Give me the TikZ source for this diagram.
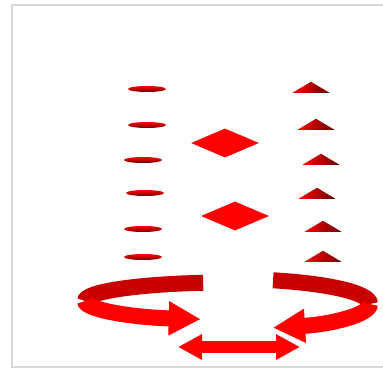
\documentclass[tikz,border=0pt]{standalone}
\usepackage{tikz}
\usetikzlibrary{positioning,shapes.geometric,arrows.meta}
\definecolor{rred}{HTML}{FF0000}
\definecolor{dred}{HTML}{C80000}
\definecolor{gframe}{HTML}{D9D9D9}

\begin{document}
\begin{tikzpicture}[x=1pt,y=-1pt,
  el/.style={ellipse,minimum width=38pt,minimum height=6pt,inner sep=0pt,top color=rred,bottom color=rred!45!black},
  tri/.style={isosceles triangle,isosceles triangle stretches,shape border rotate=90,minimum width=37pt,minimum height=11pt,inner sep=0pt,anchor=south,left color=rred,right color=rred!40!black},
  dm/.style={diamond,minimum width=68pt,minimum height=29pt,inner sep=0pt,fill=rred},
  ringback/.style={draw=dred,line width=16pt},
  ringfront/.style={draw=rred,line width=16pt,-{Triangle[length=32pt,width=32pt]}},
  dbl/.style={draw=rred,line width=12pt,{Triangle[length=24pt,width=24pt]}-{Triangle[length=24pt,width=24pt]}}]
  \useasboundingbox (0,0) rectangle (383,369);
  \draw[gframe,line width=2.5pt](395,5)--(12,5)--(12,367)--(395,367);
  \node[el](e1)at(147,89){};
  \node[el](e2)at(147,125){};
  \node[el](e3)at(143,160){};
  \node[el](e4)at(145,193){};
  \node[el](e5)at(143,229){};
  \node[el](e6)at(143,257){};
  \node[tri](t1)at(311,93){};
  \node[tri](t2)at(316,130){};
  \node[tri](t3)at(321,165){};
  \node[tri](t4)at(317,199){};
  \node[tri](t5)at(323,232){};
  \node[tri](t6)at(323,262){};
  \node[dm](d1)at(225,143){};
  \node[dm](d2)at(235,216){};
  \coordinate(lw)at(85,301);
  \coordinate(rw)at(370,304);
  \draw[ringback](lw)arc[start angle=180,end angle=260,x radius=143,y radius=18.5];
  \draw[ringfront](lw)arc[start angle=180,end angle=101,x radius=143,y radius=18.5];
  \draw[ringback](rw)arc[start angle=0,end angle=-71.5,x radius=142,y radius=25];
  \draw[ringfront](rw)arc[start angle=0,end angle=71.5,x radius=142,y radius=25];
  \coordinate(bl)at(178,347);
  \coordinate(br)at(300,347);
  \draw[dbl](bl)--(br);
\end{tikzpicture}
\end{document}
